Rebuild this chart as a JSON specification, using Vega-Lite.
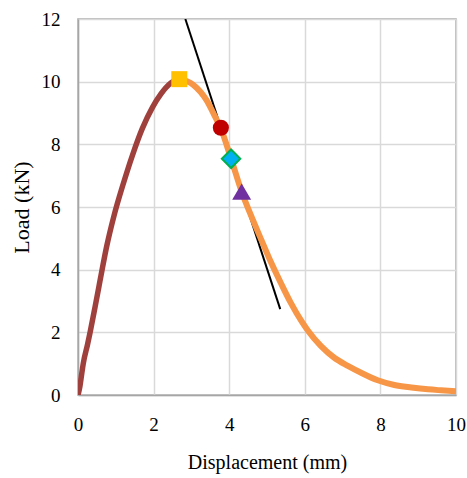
{
  "$schema": "https://vega.github.io/schema/vega-lite/v6.json",
  "width": 378,
  "height": 376,
  "autosize": "none",
  "padding": {"left": 78, "top": 19, "right": 11, "bottom": 83},
  "background": "white",
  "config": {
    "view": {"stroke": "#A6A6A6", "strokeWidth": 1.5},
    "axis": {
      "domainColor": "#A6A6A6",
      "domainWidth": 1.5,
      "gridColor": "#D9D9D9",
      "gridWidth": 1.5,
      "ticks": false,
      "labelFlush": false,
      "labelFont": "Liberation Serif",
      "labelFontSize": 19,
      "labelColor": "black",
      "titleFont": "Liberation Serif",
      "titleFontWeight": "normal",
      "titleColor": "black"
    }
  },
  "datasets": {
    "curve": [
      {"d": 0, "load": 0, "phase": "pre"},
      {"d": 0.05, "load": 0.27, "phase": "pre"},
      {"d": 0.1, "load": 0.69, "phase": "pre"},
      {"d": 0.14, "load": 1.01, "phase": "pre"},
      {"d": 0.25, "load": 1.6, "phase": "pre"},
      {"d": 0.32, "load": 2.0, "phase": "pre"},
      {"d": 0.45, "load": 2.8, "phase": "pre"},
      {"d": 0.56, "load": 3.5, "phase": "pre"},
      {"d": 0.63, "load": 3.95, "phase": "pre"},
      {"d": 0.76, "load": 4.75, "phase": "pre"},
      {"d": 0.95, "load": 5.71, "phase": "pre"},
      {"d": 1.2, "load": 6.75, "phase": "pre"},
      {"d": 1.44, "load": 7.65, "phase": "pre"},
      {"d": 1.7, "load": 8.5, "phase": "pre"},
      {"d": 1.97, "load": 9.18, "phase": "pre"},
      {"d": 2.19, "load": 9.6, "phase": "pre"},
      {"d": 2.45, "load": 9.95, "phase": "pre"},
      {"d": 2.63, "load": 10.08, "phase": "pre"},
      {"d": 2.68, "load": 10.09, "phase": "pre"},
      {"d": 2.68, "load": 10.09, "phase": "post"},
      {"d": 3.05, "load": 9.9, "phase": "post"},
      {"d": 3.4, "load": 9.41, "phase": "post"},
      {"d": 3.62, "load": 8.9, "phase": "post"},
      {"d": 3.78, "load": 8.5, "phase": "post"},
      {"d": 4.05, "load": 7.54, "phase": "post"},
      {"d": 4.33, "load": 6.49, "phase": "post"},
      {"d": 4.64, "load": 5.55, "phase": "post"},
      {"d": 4.85, "load": 4.95, "phase": "post"},
      {"d": 5.1, "load": 4.25, "phase": "post"},
      {"d": 5.36, "load": 3.59, "phase": "post"},
      {"d": 5.63, "load": 2.94, "phase": "post"},
      {"d": 5.9, "load": 2.38, "phase": "post"},
      {"d": 6.08, "load": 2.06, "phase": "post"},
      {"d": 6.43, "load": 1.56, "phase": "post"},
      {"d": 6.78, "load": 1.19, "phase": "post"},
      {"d": 7.14, "load": 0.93, "phase": "post"},
      {"d": 7.49, "load": 0.71, "phase": "post"},
      {"d": 7.93, "load": 0.47, "phase": "post"},
      {"d": 8.37, "load": 0.32, "phase": "post"},
      {"d": 8.82, "load": 0.24, "phase": "post"},
      {"d": 9.26, "load": 0.18, "phase": "post"},
      {"d": 9.6, "load": 0.15, "phase": "post"},
      {"d": 10.0, "load": 0.12, "phase": "post"}
    ],
    "tangent": [
      {"d": 2.84, "load": 12.0},
      {"d": 5.35, "load": 2.74}
    ],
    "markers": [
      {"d": 2.68, "load": 10.08, "kind": "peak"},
      {"d": 3.78, "load": 8.53, "kind": "circle"},
      {"d": 4.05, "load": 7.54, "kind": "diamond"},
      {"d": 4.33, "load": 6.49, "kind": "triangle"}
    ]
  },
  "encoding": {
    "x": {
      "field": "d",
      "type": "quantitative",
      "scale": {"domain": [0, 10], "nice": false},
      "axis": {
        "values": [0, 2, 4, 6, 8, 10],
        "title": "Displacement (mm)",
        "titleFontSize": 20,
        "labelPadding": 20,
        "titlePadding": 18
      }
    },
    "y": {
      "field": "load",
      "type": "quantitative",
      "scale": {"domain": [0, 12], "nice": false},
      "axis": {
        "values": [0, 2, 4, 6, 8, 10, 12],
        "title": "Load (kN)",
        "titleFontSize": 22,
        "labelPadding": 18,
        "titlePadding": 8
      }
    }
  },
  "layer": [
    {
      "data": {"name": "curve"},
      "transform": [{"filter": "datum.phase === 'pre'"}],
      "mark": {"type": "line", "color": "#A0403D", "strokeWidth": 5.5, "interpolate": "monotone", "clip": true}
    },
    {
      "data": {"name": "tangent"},
      "mark": {"type": "line", "color": "black", "strokeWidth": 2, "clip": true}
    },
    {
      "data": {"name": "curve"},
      "transform": [{"filter": "datum.phase === 'post'"}],
      "mark": {"type": "line", "color": "#F79646", "strokeWidth": 6, "interpolate": "monotone", "clip": true}
    },
    {
      "data": {"name": "markers"},
      "transform": [{"filter": "datum.kind === 'peak'"}],
      "mark": {"type": "point", "shape": "square", "filled": true, "color": "#FFC000", "size": 256, "opacity": 1}
    },
    {
      "data": {"name": "markers"},
      "transform": [{"filter": "datum.kind === 'circle'"}],
      "mark": {"type": "point", "shape": "circle", "filled": true, "color": "#C00000", "size": 260, "opacity": 1}
    },
    {
      "data": {"name": "markers"},
      "transform": [{"filter": "datum.kind === 'diamond'"}],
      "mark": {"type": "point", "shape": "diamond", "filled": true, "fill": "#00B0F0", "stroke": "#00B050", "strokeWidth": 2, "size": 340, "opacity": 1}
    },
    {
      "data": {"name": "markers"},
      "transform": [{"filter": "datum.kind === 'triangle'"}],
      "mark": {"type": "point", "shape": "triangle-up", "filled": true, "color": "#7030A0", "size": 360, "opacity": 1}
    }
  ]
}
